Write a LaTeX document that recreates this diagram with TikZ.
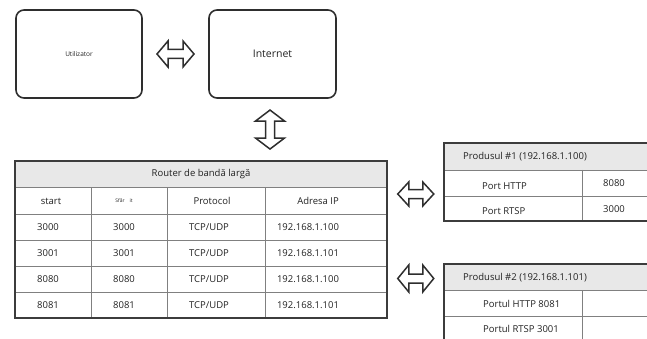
\documentclass[tikz,border=0pt]{standalone}
\usepackage{fontspec}
\setmainfont{Open Sans}
\usetikzlibrary{calc}
\definecolor{boxc}{HTML}{2E2E2E}
\definecolor{framec}{HTML}{3C3C3C}
\definecolor{gridc}{HTML}{808080}
\definecolor{txtc}{HTML}{222222}
\definecolor{hdrc}{HTML}{E8E8E8}
\begin{document}
\begin{tikzpicture}[x=1pt,y=-1pt,
  box/.style={draw=boxc, line width=1.6pt, rounded corners=8pt, inner sep=0pt, text=txtc},
  gridline/.style={draw=gridc, line width=0.9pt},
  frameline/.style={draw=framec, line width=1.4pt},
  txt/.style={font=\fontsize{9.5}{11}\selectfont, text=txtc, inner sep=0pt},
  hollow/.style={draw=boxc, line width=1.5pt, fill=white, line join=miter},
  pics/dbl/.style args={#1/#2}{code={
    \draw[hollow] (-#1,0) -- (-#1+11,-#2) -- (-#1+11,-4.5) -- (#1-11,-4.5) -- (#1-11,-#2)
      -- (#1,0) -- (#1-11,#2) -- (#1-11,4.5) -- (-#1+11,4.5) -- (-#1+11,#2) -- cycle;}}
]
\useasboundingbox (0,0) rectangle (647,339);

% top boxes
\node[box, minimum width=126pt, minimum height=88pt, font=\fontsize{6.5}{8}\selectfont] (user) at (79,54) {Utilizator};
\node[box, minimum width=127pt, minimum height=88pt, font=\fontsize{10.5}{12}\selectfont] (inet) at (272.5,54) {Internet};

% router table
\fill[hdrc] (15,161) rectangle (387,187);
\foreach \yy in {187,214,240,266,292} \draw[gridline] (15,\yy) -- (387,\yy);
\foreach \xx in {91,167,265} \draw[gridline] (\xx,187) -- (\xx,318);
\node[frameline, minimum width=372pt, minimum height=157pt, inner sep=0pt] (router) at (201,239.5) {};
\node[txt] (rhdr) at (201,174) {Router de bandă largă};
\node[txt] (c1) at (51,201) {start};
\node[txt, font=\fontsize{5}{6}\selectfont] (c2) at (124,201) {Sfâr\hspace{5pt}it};
\node[txt] (c3) at (212,201) {Protocol};
\node[txt] (c4) at (318,201) {Adresa IP};
\foreach \a/\b/\c/\d/\yy/\n in {3000/3000/TCP\slash UDP/192.168.1.100/227/1,
                           3001/3001/TCP\slash UDP/192.168.1.101/253/2,
                           8080/8080/TCP\slash UDP/192.168.1.100/279/3,
                           8081/8081/TCP\slash UDP/192.168.1.101/305/4}{
  \node[txt] (r\n a) at (48,\yy) {\a};
  \node[txt] (r\n b) at (124,\yy) {\b};
  \node[txt] (r\n c) at (209,\yy) {\c};
  \node[txt] (r\n d) at (308,\yy) {\d};
}

% product 1
\fill[hdrc] (444,143) rectangle (647,170);
\draw[gridline] (444,170) -- (647,170) (444,196) -- (647,196) (582,170) -- (582,221);
\draw[frameline] (647,143) -- (444,143) -- (444,221) -- (647,221);
\path (444,143) rectangle (647,221) node[pos=0.5, inner sep=0pt, minimum width=203pt, minimum height=78pt] (p1) {};
\node[txt, anchor=west] (p1h) at (463,157) {Produsul \#1 (192.168.1.100)};
\node[txt, anchor=west] (p1a) at (482,186) {Port HTTP};
\node[txt] (p1b) at (614,183) {8080};
\node[txt, anchor=west] (p1c) at (482,211) {Port RTSP};
\node[txt] (p1d) at (614,209) {3000};

% product 2
\fill[hdrc] (444,264) rectangle (647,290);
\draw[gridline] (444,290) -- (647,290) (444,316) -- (647,316) (582,290) -- (582,339);
\draw[frameline] (647,264) -- (444,264) -- (444,339);
\path (444,264) rectangle (647,339) node[pos=0.5, inner sep=0pt, minimum width=203pt, minimum height=75pt] (p2) {};
\node[txt, anchor=west] (p2h) at (463,278) {Produsul \#2 (192.168.1.101)};
\node[txt, anchor=west] (p2a) at (483,304) {Portul HTTP 8081};
\node[txt, anchor=west] (p2b) at (483,329) {Portul RTSP 3001};

% hollow double arrows
\coordinate (a1) at ($(router.east)!0.5!(p1.west)$);
\coordinate (a2) at ($(router.east)!0.5!(p2.west)$);
\pic at ($(user.east)!0.5!(inet.west)$) {dbl={18.5/13}};
\pic[rotate=90] at ($(inet.south)!0.5!(router.north -| inet.south)+(-2.5,0)$) {dbl={19.5/14.5}};
\pic at (a1 |- 0,194) {dbl={18/12}};
\pic at (a2 |- 0,278.5) {dbl={18/13.5}};
\end{tikzpicture}
\end{document}
